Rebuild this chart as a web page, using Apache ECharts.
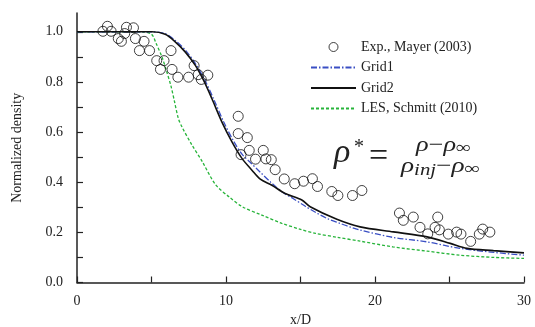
<!DOCTYPE html>
<html>
<head>
<meta charset="utf-8">
<script src="https://cdn.jsdelivr.net/npm/echarts@6/dist/echarts.min.js"></script>
<style>html,body{margin:0;padding:0;background:#fff}#c{width:535px;height:327px}</style>
</head>
<body>
<div id="c"></div>
<script>
// Experimental data (x/D, normalized density)
var expX = [1.74,2.04,2.29,2.77,2.98,3.20,3.32,3.79,3.92,4.50,4.19,4.87,5.35,5.84,5.60,6.31,6.38,6.77,7.49,7.86,8.13,8.34,8.78,
  10.82,10.82,11.43,11.56,11.01,11.98,12.50,12.68,13.04,13.30,13.91,14.61,15.20,15.80,16.14,17.10,17.51,18.49,19.12,
  21.64,21.90,22.57,23.02,23.54,24.21,24.03,24.32,24.92,25.48,25.77,26.42,27.00,27.23,27.71];
var expY = [1.002,1.022,1.002,0.973,0.962,0.993,1.018,1.016,0.973,0.962,0.925,0.925,0.885,0.885,0.850,0.925,0.850,0.819,0.819,0.865,0.829,0.810,0.827,
  0.663,0.594,0.578,0.527,0.510,0.492,0.527,0.493,0.490,0.450,0.413,0.394,0.404,0.414,0.383,0.363,0.347,0.347,0.367,
  0.277,0.248,0.261,0.220,0.194,0.261,0.220,0.210,0.193,0.201,0.193,0.164,0.193,0.213,0.201];

var grid1X = [0,5.0,5.9,6.6,7.3,8.0,8.6,9.2,9.85,10.5,11.1,11.7,12.3,13.0,13.75,14.5,15.3,16.0,16.8,17.6,18.5,19.0,21.2,23.5,25.7,28.0,30];
var grid1Y = [1,1.0,0.993,0.965,0.925,0.868,0.805,0.728,0.64,0.565,0.51,0.475,0.44,0.40,0.362,0.335,0.305,0.28,0.255,0.237,0.218,0.209,0.180,0.162,0.136,0.120,0.109];

var grid2X = [0,5.03,5.92,6.59,7.26,7.93,8.49,9.05,9.72,10.40,11.07,11.74,12.30,13.08,13.97,15.09,15.65,17.44,19.0,21.24,23.5,25.05,26.17,27.95,30];
var grid2Y = [1,1.0,0.990,0.960,0.920,0.867,0.807,0.734,0.641,0.561,0.495,0.448,0.412,0.388,0.355,0.329,0.302,0.252,0.222,0.202,0.182,0.156,0.136,0.127,0.118];

var lesX = [0,4.3,5.0,5.3,5.7,6.0,6.3,6.55,6.8,7.05,7.7,8.4,9.3,10.2,11.1,12.4,13.75,15.0,16.0,17.5,19.0,21.2,23.5,25.7,28.0,30];
var lesY = [1,1.0,0.99,0.955,0.9,0.845,0.785,0.72,0.655,0.62,0.55,0.483,0.39,0.342,0.302,0.269,0.236,0.212,0.196,0.18,0.165,0.142,0.125,0.109,0.100,0.096];

var xTicks = [0,5,10,15,20,25,30];
var xLabels = [0,10,20,30];
var yTicks = [0,0.1,0.2,0.3,0.4,0.5,0.6,0.7,0.8,0.9,1.0];
var yLabels = [0,0.2,0.4,0.6,0.8,1.0];

var names = ['Exp., Mayer (2003)','Grid1','Grid2','LES, Schmitt (2010)'];

function zip(a,b){return a.map(function(v,i){return [v,b[i]];});}

var FONT = 'Liberation Serif';
var AX = '#222';

var chart = echarts.init(document.getElementById('c'), null, {renderer:'canvas'});
chart.setOption({
  animation:false,
  backgroundColor:'#fff',
  textStyle:{fontFamily:FONT},
  grid:{left:77,right:11,top:13,bottom:44.5,containLabel:false,outerBoundsMode:'none'},
  legend:{
    orient:'vertical', left:305, top:35, itemWidth:45, itemHeight:9, itemGap:6.5,
    textStyle:{fontFamily:FONT,fontSize:14,color:'#222'},
    data:[
      {name:names[0],itemStyle:{borderWidth:1}},
      {name:names[1],itemStyle:{opacity:0}},
      {name:names[2],itemStyle:{opacity:0}},
      {name:names[3],itemStyle:{opacity:0}}
    ]
  },
  xAxis:{
    type:'value', min:0, max:30,
    name:'x/D', nameLocation:'middle', nameGap:31,
    nameTextStyle:{fontFamily:FONT,fontSize:14,color:'#222'},
    axisLine:{lineStyle:{color:AX,width:1.5}},
    axisTick:{inside:true,length:6,lineStyle:{color:AX,width:1.2},customValues:xTicks},
    axisLabel:{customValues:xLabels,margin:12,fontFamily:FONT,fontSize:14,color:'#222'},
    splitLine:{show:false}
  },
  yAxis:{
    type:'value', min:0, max:1.075,
    name:'Normalized density', nameLocation:'middle', nameGap:53,
    nameTextStyle:{fontFamily:FONT,fontSize:14,color:'#222'},
    axisLine:{show:true,lineStyle:{color:AX,width:1.5}},
    axisTick:{show:true,inside:true,length:6,lineStyle:{color:AX,width:1.2},customValues:yTicks},
    axisLabel:{customValues:yLabels,margin:14,fontFamily:FONT,fontSize:14,color:'#222',
      formatter:function(v){return v.toFixed(1);}},
    splitLine:{show:false}
  },
  series:[
    {name:names[0],type:'scatter',data:zip(expX,expY),symbol:'circle',symbolSize:10,z:5,
      itemStyle:{color:'rgba(255,255,255,0)',borderColor:'#111',borderWidth:1}},
    {name:names[1],type:'line',data:zip(grid1X,grid1Y),showSymbol:false,symbol:'none',smooth:0.3,z:3,
      lineStyle:{color:'#3a4fc4',width:1.3,type:[6,2,1.5,2]},itemStyle:{color:'#3a4fc4'}},
    {name:names[2],type:'line',data:zip(grid2X,grid2Y),showSymbol:false,symbol:'none',smooth:0.3,z:4,
      lineStyle:{color:'#111',width:1.6},itemStyle:{color:'#111'}},
    {name:names[3],type:'line',data:zip(lesX,lesY),showSymbol:false,symbol:'none',smooth:0.3,z:2,
      lineStyle:{color:'#27b43a',width:1.3,type:[3,2]},itemStyle:{color:'#27b43a'}}
  ],
  graphic:[
    {type:'text',left:334,top:136,style:{text:'ρ',fontFamily:FONT,fontStyle:'italic',fontSize:34,fill:'#222'}},
    {type:'text',left:354,top:138,style:{text:'*',fontFamily:FONT,fontSize:20,fill:'#222'}},
    {type:'text',left:369,top:140,style:{text:'=',fontFamily:FONT,fontSize:34,fill:'#222'}},
    {type:'text',left:416,top:135,scaleX:1.25,style:{
      text:'{a|ρ}{b|−}{a|ρ}{s|∞}',
      rich:{a:{fontFamily:FONT,fontStyle:'italic',fontSize:21,fill:'#222',lineHeight:24,verticalAlign:'middle'},
            b:{fontFamily:FONT,fontSize:21,fill:'#222',lineHeight:24,verticalAlign:'middle'},
            s:{fontFamily:FONT,fontSize:17,fill:'#222',lineHeight:24,verticalAlign:'bottom'}}}},
    {type:'text',left:401,top:156,scaleX:1.3,style:{
      text:'{a|ρ}{t|inj}{b|−}{a|ρ}{s|∞}',
      rich:{a:{fontFamily:FONT,fontStyle:'italic',fontSize:21,fill:'#222',lineHeight:24,verticalAlign:'middle'},
            t:{fontFamily:FONT,fontStyle:'italic',fontSize:16,fill:'#222',lineHeight:24,verticalAlign:'bottom'},
            b:{fontFamily:FONT,fontSize:21,fill:'#222',lineHeight:24,verticalAlign:'middle'},
            s:{fontFamily:FONT,fontSize:17,fill:'#222',lineHeight:24,verticalAlign:'bottom'}}}}
  ]
});
</script>
</body>
</html>
